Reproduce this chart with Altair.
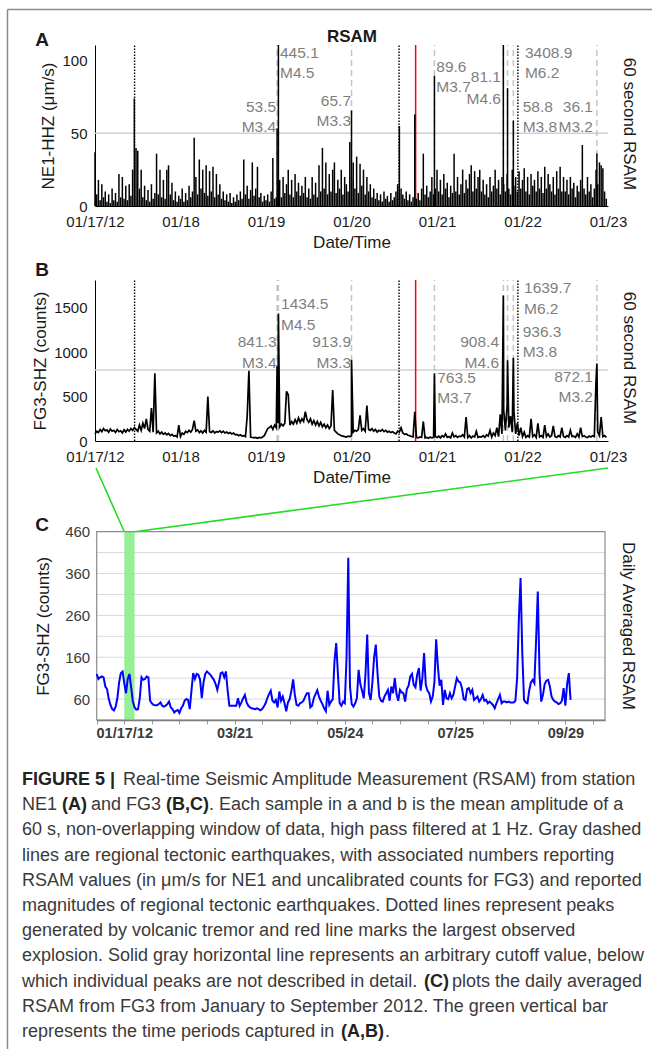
import altair as alt
import pandas as pd

W, H = 652, 1049
FONT = "Liberation Sans"
INK = "#1a1a1a"
NOTE = "#7f7f7f"

# ------------------------------------------------------------------ data
# 60 s RSAM, one value every 0.02 day starting 01/17/12 00:00
STEP_DAYS = 0.02
ne1_rsam = [
    37, 8, 18, 4, 15, 6, 10, 3, 8, 2, 12, 4, 9, 3, 22, 6, 20, 5, 14, 4, 15, 7, 25, 74, 40,
    38, 12, 25, 6, 14, 4, 11, 3, 15, 5, 9, 36, 8, 25, 6, 18, 5, 25, 28, 8, 16, 4, 10, 3, 7,
    5, 12, 3, 9, 4, 14, 6, 10, 47, 20, 8, 32, 12, 25, 9, 28, 7, 24, 10, 27, 6, 22, 8, 15, 5,
    10, 4, 8, 3, 9, 2, 6, 3, 8, 4, 10, 5, 32, 8, 14, 5, 11, 30, 7, 12, 27, 6, 9, 3, 7,
    4, 8, 3, 10, 33, 5, 6, 12, 18, 6, 20, 9, 15, 25, 8, 18, 6, 22, 10, 16, 7, 14, 9, 20, 6,
    12, 5, 20, 8, 16, 6, 28, 10, 40, 12, 30, 8, 22, 10, 25, 30, 9, 18, 12, 25, 8, 20, 15, 10, 44,
    20, 30, 12, 34, 9, 29, 14, 25, 8, 20, 10, 15, 6, 12, 5, 9, 4, 8, 3, 10, 5, 7, 3, 9, 4,
    6, 10, 15, 55, 12, 8, 5, 10, 4, 8, 3, 6, 63, 5, 9, 4, 12, 36, 8, 14, 6, 10, 20, 8, 12,
    25, 10, 18, 8, 22, 12, 16, 6, 14, 9, 36, 10, 20, 8, 15, 25, 9, 18, 12, 22, 28, 10, 24, 12, 20,
    25, 10, 18, 8, 15, 6, 20, 10, 14, 25, 12, 18, 8, 20, 15, 10, 22, 12, 8, 25, 14, 20, 10, 24, 12,
    18, 26, 10, 20, 8, 22, 14, 18, 10, 24, 12, 20, 9, 27, 12, 22, 15, 10, 20, 8, 24, 12, 27, 10, 20,
    10, 18, 8, 20, 12, 16, 6, 14, 10, 18, 42, 12, 8, 20, 10, 15, 6, 12, 25, 15, 30, 28, 26, 10, 5,
]
fg3_rsam = [
    80, 110, 95, 130, 105, 140, 115, 125, 100, 135, 110, 120, 95, 130, 105, 115, 90, 125, 100, 130, 110, 140, 120, 150, 130,
    110, 180, 120, 200, 140, 250, 130, 110, 370, 100, 763, 90, 110, 80, 100, 75, 90, 70, 85, 60, 75, 55, 60, 45, 180,
    50, 90, 75, 110, 95, 120, 100, 130, 230, 110, 125, 95, 115, 90, 120, 100, 500, 105, 95, 115, 90, 105, 100, 115, 95,
    110, 90, 100, 85, 95, 80, 90, 70, 75, 60, 70, 55, 60, 50, 280, 790, 45, 40, 35, 40, 30, 40, 35, 45, 60,
    100, 140, 150, 170, 130, 180, 150, 200, 160, 190, 170, 200, 560, 520, 180, 220, 190, 240, 200, 260, 210, 250, 220, 330, 240,
    210, 250, 190, 230, 180, 220, 170, 210, 160, 190, 150, 180, 140, 170, 575, 120, 100, 80, 70, 60, 55, 50, 45, 55, 50,
    60, 100, 120, 110, 130, 290, 120, 140, 110, 400, 130, 120, 140, 110, 130, 100, 120, 110, 130, 105, 120, 100, 110, 95, 105,
    90, 80, 110, 100, 150, 90, 75, 80, 65, 60, 50, 45, 330, 40, 35, 45, 40, 220, 35, 40, 30, 45, 35, 40, 50,
    40, 55, 35, 60, 45, 80, 40, 50, 35, 90, 45, 60, 40, 55, 50, 70, 45, 270, 40, 60, 35, 55, 45, 110, 40,
    50, 45, 60, 40, 70, 55, 120, 45, 90, 60, 150, 50, 300, 80, 350, 120, 400, 150, 280, 100, 330, 80, 200, 60, 150,
    50, 100, 40, 60, 45, 250, 50, 70, 40, 200, 45, 60, 40, 180, 50, 80, 45, 60, 170, 50, 40, 60, 45, 150, 50,
    40, 60, 45, 120, 50, 55, 40, 80, 45, 150, 50, 60, 45, 40, 55, 45, 60, 50, 680, 100, 60, 270, 50, 60, 40,
]

# regional tectonic earthquakes (days after 01/17/12 00:00)
quake_day = [2.13, 2.145, 3.0, 3.97, 4.776, 4.825, 4.893, 5.87]
quake_mag = ["M3.4", "M4.5", "M3.3", "M3.7", "M6.2", "M4.6", "M3.8", "M3.2"]
quake_ne1 = [53.5, 445.1, 65.7, 89.6, 3408.9, 81.1, 58.8, 36.1]
quake_fg3 = [841.3, 1434.5, 913.9, 763.5, 1639.7, 908.4, 936.3, 872.1]
tremor_day = [0.463, 3.556, 4.946]
explosion_day = [3.75]
ne1_cutoff = 50
fg3_cutoff = 800

day_ticks = [0, 1, 2, 3, 4, 5, 6]
day_labels = ["01/17/12", "01/18", "01/19", "01/20", "01/21", "01/22", "01/23"]

# daily averaged FG3 RSAM, index 0 = 01/01/12
fg3_daily = [
    120, 108, 112, 114, 112, 90, 84, 60, 46, 36,
    33, 42, 62, 100, 122, 126, 98, 74, 108, 120,
    88, 54, 40, 35, 36, 62, 112, 106, 108, 114,
    112, 56, 50, 46, 45, 45, 48, 52, 44, 42,
    44, 48, 54, 40, 36, 28, 32, 34, 27, 38,
    44, 56, 60, 58, 36, 80, 122, 108, 120, 118,
    106, 62, 100, 120, 126, 122, 118, 112, 106, 96,
    82, 100, 122, 124, 112, 126, 80, 44, 44, 44,
    44, 44, 62, 44, 52, 62, 70, 52, 44, 40,
    38, 37, 36, 38, 36, 33, 36, 42, 50, 62,
    72, 80, 56, 52, 58, 40, 78, 56, 66, 50,
    31, 52, 60, 80, 107, 70, 46, 44, 50, 52,
    56, 66, 74, 74, 40, 44, 62, 72, 81, 66,
    56, 48, 38, 31, 80, 46, 54, 60, 150, 194,
    120, 50, 44, 54, 50, 160, 398, 90, 48, 42,
    50, 62, 130, 96, 80, 62, 120, 214, 74, 58,
    100, 160, 190, 120, 66, 56, 54, 66, 74, 82,
    56, 90, 74, 110, 72, 56, 82, 76, 74, 54,
    84, 92, 114, 120, 94, 88, 118, 134, 80, 110,
    170, 94, 80, 74, 54, 66, 100, 203, 138, 92,
    106, 46, 82, 62, 60, 74, 62, 70, 90, 110,
    102, 100, 86, 60, 58, 84, 86, 74, 82, 58,
    62, 66, 54, 60, 70, 56, 58, 50, 54, 50,
    46, 38, 50, 60, 70, 50, 54, 54, 52, 54,
    52, 52, 52, 56, 110, 250, 349, 170, 58, 52,
    50, 80, 100, 106, 98, 200, 317, 120, 54, 70,
    96, 104, 106, 90, 66, 58, 54, 52, 48, 50,
    56, 86, 44, 96, 122, 58,
]
daily_ticks = list(range(0, 289, 16))
daily_label_idx = [16, 80, 144, 208, 272]
daily_labels = ["01/17/12", "03/21", "05/24", "07/25", "09/29"]
daily_grid = [60, 110, 160, 210, 260, 310, 360, 410]
window_idx = [16, 22]  # 01/17 .. 01/23, the span of panels A and B

# ------------------------------------------------------------ layout
X_LEFT, X_RIGHT = 95, 608
A_TOP, A_BOTTOM, A_MAX = 45, 206, 110.8
B_TOP, B_BOTTOM, B_MAX = 280, 441, 1813
C_LEFT, C_RIGHT, C_TOP, C_BOTTOM = 96.7, 605, 531.7, 720
C_XMAX, C_YMIN, C_YMAX = 295, 10, 460
LINK_Y = 468  # just under panel B's date labels

# annotation anchors (day, side) and heights (data units) of number / magnitude lines
ne1_label_day = [2.13, 2.152, 3.006, 3.98, 5.017, 4.76, 4.99, 5.836]
fg3_label_day = [2.135, 2.164, 3.006, 3.99, 5.006, 4.737, 4.99, 5.836]
label_side = ["right", "left", "right", "left", "left", "right", "left", "right"]
ne1_num_y = [68, 105.5, 72.5, 95.9, 105.5, 88.6, 68, 68]
ne1_mag_y = [54.6, 91.7, 58.8, 82.1, 91.7, 73.4, 54.6, 54.6]
fg3_num_y = [1115, 1543, 1115, 709, 1726, 1115, 1231, 724]
fg3_mag_y = [882, 1306, 882, 484, 1483, 882, 1002, 499]


def series_frame(values, quake_values):
    base = pd.DataFrame({"t": [i * STEP_DAYS for i in range(len(values))], "v": values})
    ev = pd.DataFrame({"t": quake_day, "v": quake_values})
    return pd.concat([base, ev]).sort_values("t").reset_index(drop=True)


def rsam_panel(values, quake_values, ymax, yticks, ytitle, cutoff, top, bottom,
               lab_day, num_y, mag_y, spikes):
    xs = alt.Scale(domain=[0, 6], range=[X_LEFT, X_RIGHT], nice=False, zero=False)
    ys = alt.Scale(domain=[0, ymax], range=[bottom, top], nice=False, zero=False, clamp=True)
    date_expr = "[" + ",".join(f"'{s}'" for s in day_labels) + "][datum.value]"
    xa = alt.Axis(orient="bottom", offset=bottom - H, values=day_ticks, labelExpr=date_expr,
                  title="Date/Time", grid=False, ticks=False, tickSize=0,
                  domain=True, domainColor="black", domainWidth=1,
                  labelFont=FONT, labelFontSize=15, labelColor=INK, labelPadding=8,
                  labelFlush=False, labelOverlap=False,
                  titleFont=FONT, titleFontSize=17, titleFontWeight="normal",
                  titleColor=INK, titlePadding=5)
    ya = alt.Axis(orient="left", offset=-X_LEFT, values=yticks, format="d", title=ytitle,
                  grid=False, ticks=False, tickSize=0, domain=True, domainColor="black",
                  domainWidth=1, labelFont=FONT, labelFontSize=15, labelColor=INK,
                  labelPadding=8, labelFlush=False, labelOverlap=False,
                  titleFont=FONT, titleFontSize=17, titleFontWeight="normal",
                  titleColor=INK, titlePadding=4)

    def X(field):
        return alt.X(field, type="quantitative", scale=xs, axis=xa)

    def Y(field):
        return alt.Y(field, type="quantitative", scale=ys, axis=ya)

    y_bottom = alt.YDatum(0, type="quantitative", scale=ys, axis=ya)
    y_top = alt.Y2Datum(ymax)

    cut = alt.Chart(pd.DataFrame({"c": [cutoff]})).mark_rule(
        color="#d0d0d0", strokeWidth=1.5).encode(
        x=alt.XDatum(0, type="quantitative", scale=xs, axis=xa), x2=alt.X2Datum(6), y=Y("c"))
    quakes = alt.Chart(pd.DataFrame({"t": quake_day})).mark_rule(
        color="#c4c4c4", strokeWidth=1.5, strokeDash=[6, 4]).encode(x=X("t"), y=y_bottom, y2=y_top)
    tremor = alt.Chart(pd.DataFrame({"t": tremor_day})).mark_rule(
        color="black", strokeWidth=1.4, strokeDash=[1.5, 1.5]).encode(x=X("t"), y=y_bottom, y2=y_top)
    blast = alt.Chart(pd.DataFrame({"t": explosion_day})).mark_rule(
        color="#ff0000", strokeWidth=1.5).encode(x=X("t"), y=y_bottom, y2=y_top)
    series = series_frame(values, quake_values)
    if spikes:
        # every sample drawn as a spike up from zero: the dense 60 s record
        trace = alt.Chart(series).mark_rule(color="black", strokeWidth=1.5).encode(
            x=X("t"), y=Y("v"), y2=alt.Y2Datum(0))
    else:
        trace = alt.Chart(series).mark_line(color="black", strokeWidth=1.7).encode(
            x=X("t"), y=Y("v"))
    layers = [cut, quakes, tremor, blast, trace]

    lab = pd.DataFrame({
        "t": lab_day + lab_day,
        "y": num_y + mag_y,
        "text": [f"{v:.1f}" for v in quake_values] + quake_mag,
        "side": label_side + label_side,
    })
    for side, dx in (("left", 1), ("right", -1)):
        layers.append(
            alt.Chart(lab).transform_filter(alt.datum.side == side).mark_text(
                align=side, baseline="middle", dx=dx, font=FONT, fontSize=15.5, color=NOTE
            ).encode(x=X("t"), y=Y("y"), text="text:N")
        )
    return alt.layer(*layers)


panel_a = rsam_panel(ne1_rsam, quake_ne1, A_MAX, [0, 50, 100], "NE1-HHZ (\u03bcm/s)",
                     ne1_cutoff, A_TOP, A_BOTTOM, ne1_label_day, ne1_num_y, ne1_mag_y, True)
panel_b = rsam_panel(fg3_rsam, quake_fg3, B_MAX, [0, 500, 1000, 1500], "FG3-SHZ (counts)",
                     fg3_cutoff, B_TOP, B_BOTTOM, fg3_label_day, fg3_num_y, fg3_mag_y, False)

# ---------------------------------------------------------- panel C
cxs = alt.Scale(domain=[0, C_XMAX], range=[C_LEFT, C_RIGHT], nice=False, zero=False)
cys = alt.Scale(domain=[C_YMIN, C_YMAX], range=[C_BOTTOM, C_TOP], nice=False, zero=False)
c_expr = " : ".join(f"datum.value == {i} ? '{s}'" for i, s in zip(daily_label_idx, daily_labels)) + " : ''"
cxa = alt.Axis(orient="bottom", offset=C_BOTTOM - H, values=daily_ticks, labelExpr=c_expr,
               title=None, grid=False, ticks=True, tickSize=4, tickColor="#9a9a9a",
               domain=True, domainColor="#6e6e6e", domainWidth=1.5,
               labelFont=FONT, labelFontSize=14.5, labelFontWeight="bold", labelColor="#3a3a3a",
               labelPadding=2, labelFlush=False, labelOverlap=False)
cya = alt.Axis(orient="left", offset=-C_LEFT, values=[60, 160, 260, 360, 460],
               title="FG3-SHZ (counts)", grid=False, ticks=False, tickSize=0, domain=False,
               labelFont=FONT, labelFontSize=15, labelColor="#3a3a3a", labelPadding=7,
               labelFlush=False, labelOverlap=False,
               titleFont=FONT, titleFontSize=17, titleFontWeight="normal", titleColor=INK,
               titlePadding=12)


def CX(field):
    return alt.X(field, type="quantitative", scale=cxs, axis=cxa)


def CY(field):
    return alt.Y(field, type="quantitative", scale=cys, axis=cya)


c_grid = alt.Chart(pd.DataFrame({"g": daily_grid})).mark_rule(color="#d9d9d9", strokeWidth=1).encode(
    x=alt.XDatum(0, type="quantitative", scale=cxs, axis=cxa), x2=alt.X2Datum(C_XMAX), y=CY("g"))
c_window = alt.Chart(pd.DataFrame({"a": [window_idx[0]], "b": [window_idx[1]]})).mark_rect(
    color="#8fef8f", opacity=0.95).encode(
    x=CX("a"), x2="b", y=alt.YDatum(C_YMIN, type="quantitative", scale=cys, axis=cya),
    y2=alt.Y2Datum(C_YMAX))
c_frame = alt.Chart(pd.DataFrame({"k": [0]})).mark_rect(
    filled=False, stroke="#8c8c8c", strokeWidth=1.2).encode(
    x=alt.XDatum(0, type="quantitative", scale=cxs, axis=cxa), x2=alt.X2Datum(C_XMAX),
    y=alt.YDatum(C_YMIN, type="quantitative", scale=cys, axis=cya), y2=alt.Y2Datum(C_YMAX))
c_line = alt.Chart(pd.DataFrame({"i": list(range(len(fg3_daily))), "v": fg3_daily})).mark_line(
    color="#0000ff", strokeWidth=2).encode(x=CX("i"), y=CY("v"))

# zoom connectors: from the window's top corners up to the ends of panel B's date axis
c_links = [
    alt.Chart(pd.DataFrame({"i": [idx]})).mark_rule(color="#22dd22", strokeWidth=1.6).encode(
        x=CX("i"), y=alt.YDatum(C_YMAX, type="quantitative", scale=cys, axis=cya),
        x2=alt.value(px), y2=alt.value(LINK_Y))
    for idx, px in zip(window_idx, [X_LEFT + 1, X_RIGHT])
]
panel_c = alt.layer(c_grid, c_window, c_frame, c_line, *c_links)


# ---------------------------------------------------------- text & frame
def pixel_text(text, x, y, size, weight="normal", angle=0, color=INK):
    return alt.Chart(pd.DataFrame({"s": [text]})).mark_text(
        x=x, y=y, font=FONT, fontSize=size, fontWeight=weight, angle=angle, color=color,
        align="center", baseline="middle").encode(text="s:N")


titles = [
    pixel_text("A", 42, 40, 19, "bold"),
    pixel_text("RSAM", 352, 37, 17, "bold"),
    pixel_text("60 second RSAM", 629, 124, 17, angle=90),
    pixel_text("B", 42, 270, 19, "bold"),
    pixel_text("60 second RSAM", 629, 358, 17, angle=90),
    pixel_text("C", 42, 525, 19, "bold"),
    pixel_text("Daily Averaged RSAM", 628, 626, 17, angle=90),
]

frame = alt.Chart(pd.DataFrame({"x": [7.5, 7.5], "y": [9.5, 9.5], "x2": [652, 7.5], "y2": [9.5, 1049]})).mark_rule(
    color="#8a8a8a", strokeWidth=1.5).encode(
    x=alt.X("x:Q", scale=None), y=alt.Y("y:Q", scale=None),
    x2="x2:Q", y2="y2:Q")

cap_line = [0, 0, 1, 1, 1, 1, 1, 2, 3, 4, 5, 6, 7, 8, 8, 8, 9, 10, 10, 10]
cap_x = [22, 123, 22, 62, 91, 166, 209, 22, 22, 22, 22, 22, 22, 22, 424, 452, 22, 22, 341, 385]
cap_bold = [1, 0, 0, 1, 0, 1, 0, 0, 0, 0, 0, 0, 0, 0, 1, 0, 0, 0, 1, 0]
cap_text = [
    "FIGURE 5 |",
    "Real-time Seismic Amplitude Measurement (RSAM) from station",
    "NE1", "(A)", "and FG3", "(B,C)", ". Each sample in a and b is the mean amplitude of a",
    "60 s, non-overlapping window of data, high pass filtered at 1 Hz. Gray dashed",
    "lines are regional tectonic earthquakes, with associated numbers reporting",
    "RSAM values (in \u03bcm/s for NE1 and uncalibrated counts for FG3) and reported",
    "magnitudes of regional tectonic earthquakes. Dotted lines represent peaks",
    "generated by volcanic tremor and red line marks the largest observed",
    "explosion. Solid gray horizontal line represents an arbitrary cutoff value, below",
    "which individual peaks are not described in detail.", "(C)", "plots the daily averaged",
    "RSAM from FG3 from January to September 2012. The green vertical bar",
    "represents the time periods captured in", "(A,B)", ".",
]
CAP_TOP, CAP_LEAD = 780, 25.2
cap = pd.DataFrame({
    "x": cap_x,
    "y": [CAP_TOP + CAP_LEAD * k for k in cap_line],
    "text": cap_text,
    "bold": cap_bold,
})
caption = []
for b, weight, col in ((0, "normal", "#3a3a3a"), (1, "bold", "#222222")):
    caption.append(
        alt.Chart(cap).transform_filter(alt.datum.bold == b).mark_text(
            align="left", baseline="middle", font=FONT, fontSize=18, fontWeight=weight, color=col
        ).encode(x=alt.X("x:Q", scale=None), y=alt.Y("y:Q", scale=None), text="text:N")
    )

chart = alt.layer(
    frame, panel_a, panel_b, panel_c, *titles, *caption
).resolve_scale(x="independent", y="independent").properties(
    width=W, height=H, padding=0, autosize=alt.AutoSizeParams(type="none"), background="white"
).configure_view(stroke="transparent")

chart.save("out.html", embed_options={"renderer": "svg", "actions": False})
